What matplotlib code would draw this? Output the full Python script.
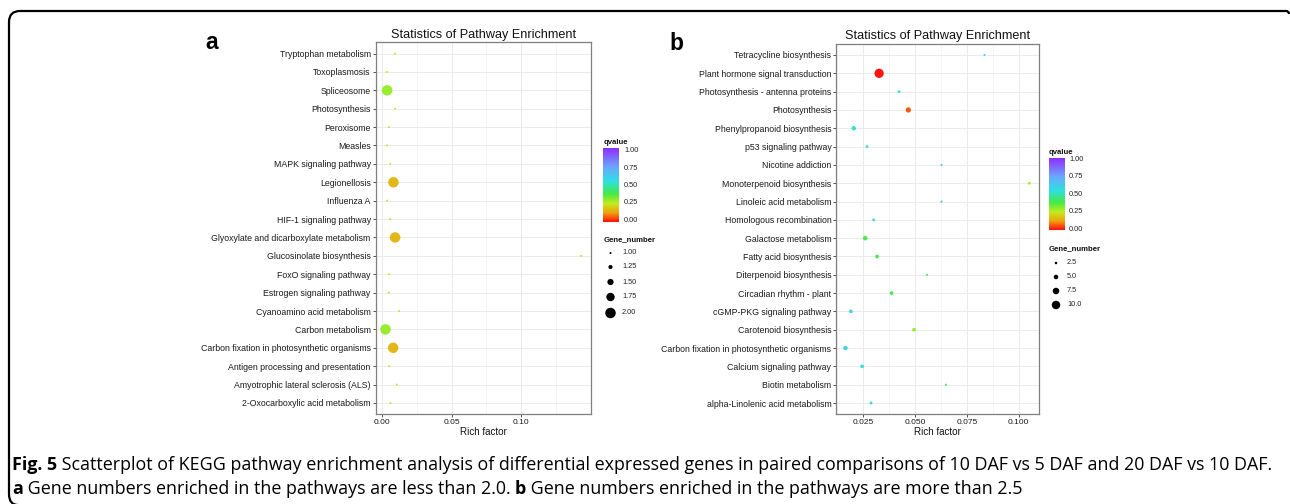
import numpy as np
import matplotlib
matplotlib.use("Agg")
import matplotlib.pyplot as plt
from matplotlib.colors import LinearSegmentedColormap
from matplotlib.path import Path
from matplotlib.patches import PathPatch

W, H = 1290, 504
plt.rcParams["font.family"] = ["Liberation Sans", "DejaVu Sans"]

# panel a
a_names = [
    "Tryptophan metabolism", "Toxoplasmosis", "Spliceosome", "Photosynthesis",
    "Peroxisome", "Measles", "MAPK signaling pathway", "Legionellosis",
    "Influenza A", "HIF-1 signaling pathway",
    "Glyoxylate and dicarboxylate metabolism", "Glucosinolate biosynthesis",
    "FoxO signaling pathway", "Estrogen signaling pathway",
    "Cyanoamino acid metabolism", "Carbon metabolism",
    "Carbon fixation in photosynthetic organisms",
    "Antigen processing and presentation",
    "Amyotrophic lateral sclerosis (ALS)", "2-Oxocarboxylic acid metabolism",
]
a_rich = [0.0095, 0.0036, 0.0038, 0.0095, 0.0050, 0.0036, 0.0060, 0.0083, 0.0037, 0.0060,
          0.0095, 0.1429, 0.0052, 0.0050, 0.0124, 0.0026, 0.0081, 0.0052, 0.0107, 0.0062]
a_q = [0.24, 0.24, 0.30, 0.24, 0.24, 0.24, 0.24, 0.16, 0.24, 0.24,
       0.16, 0.24, 0.24, 0.24, 0.24, 0.30, 0.16, 0.24, 0.24, 0.24]
a_genes = [1, 1, 2, 1, 1, 1, 1, 2, 1, 1, 2, 1, 1, 1, 1, 2, 2, 1, 1, 1]
a_ticks = [0.0, 0.05, 0.10]
a_ticklabels = ["0.00", "0.05", "0.10"]
a_size_legend = [1.0, 1.25, 1.5, 1.75, 2.0]
a_size_labels = ["1.00", "1.25", "1.50", "1.75", "2.00"]

# panel b
b_names = [
    "Tetracycline biosynthesis", "Plant hormone signal transduction",
    "Photosynthesis - antenna proteins", "Photosynthesis",
    "Phenylpropanoid biosynthesis", "p53 signaling pathway", "Nicotine addiction",
    "Monoterpenoid biosynthesis", "Linoleic acid metabolism",
    "Homologous recombination", "Galactose metabolism", "Fatty acid biosynthesis",
    "Diterpenoid biosynthesis", "Circadian rhythm - plant",
    "cGMP-PKG signaling pathway", "Carotenoid biosynthesis",
    "Carbon fixation in photosynthetic organisms", "Calcium signaling pathway",
    "Biotin metabolism", "alpha-Linolenic acid metabolism",
]
b_rich = [0.0835, 0.0327, 0.0423, 0.0468, 0.0205, 0.0269, 0.0628, 0.1051, 0.0628, 0.0301,
          0.0260, 0.0317, 0.0558, 0.0387, 0.0191, 0.0495, 0.0165, 0.0245, 0.0649, 0.0288]
b_q = [0.56, 0.00, 0.53, 0.06, 0.53, 0.55, 0.62, 0.28, 0.62, 0.58,
       0.38, 0.38, 0.40, 0.38, 0.60, 0.30, 0.60, 0.55, 0.42, 0.60]
b_genes = [2, 11, 3, 6, 5, 3, 2, 3, 2, 3, 5, 4, 2, 4, 4, 4, 5, 4, 2, 3]
b_ticks = [0.025, 0.050, 0.075, 0.100]
b_ticklabels = ["0.025", "0.050", "0.075", "0.100"]
b_size_legend = [2.5, 5.0, 7.5, 10.0]
b_size_labels = ["2.5", "5.0", "7.5", "10.0"]

q_ticks = [1.0, 0.75, 0.5, 0.25, 0.0]
q_labels = ["1.00", "0.75", "0.50", "0.25", "0.00"]

cmap = LinearSegmentedColormap.from_list("qv", [
    (0.0, "#ff0000"), (0.12, "#f09a00"), (0.25, "#bfec10"), (0.38, "#3ce83c"),
    (0.55, "#22e0e0"), (0.75, "#64a0ff"), (1.0, "#8a22ff")])


def size_a(g):
    return ((2 + (g - 1) * 8.5) * 0.72) ** 2


def size_b(g):
    return ((0.5 + 0.8 * g) * 0.72) ** 2


def box(l, t, r, b):
    return [l / W, 1 - b / H, (r - l) / W, (b - t) / H]


fig = plt.figure(figsize=(W / 100, H / 100), dpi=100)


def panel(rect, names, rich, q, genes, size_fn, ticks, labels, title_pad):
    ax = fig.add_axes(rect)
    n = len(names)
    y = np.arange(n)
    ax.scatter(rich, y, s=[size_fn(g) for g in genes], c=q, cmap=cmap,
               vmin=0, vmax=1, linewidths=0, alpha=0.92, zorder=3)
    lo, hi = min(rich), max(rich)
    pad = 0.05 * (hi - lo)
    ax.set_xlim(lo - pad, hi + pad)
    ax.set_ylim(n - 1 + 0.6, -0.6)
    ax.set_yticks(y, names)
    ax.set_xticks(ticks, labels)
    step = ticks[1] - ticks[0]
    minor = [t + step / 2 for t in [ticks[0] - step] + ticks]
    minor = [m for m in minor if lo - pad < m < hi + pad]
    ax.set_xticks(minor, minor=True)
    ax.tick_params(axis="x", which="minor", length=0)
    ax.grid(True, which="major", color="#ebebeb", lw=0.7, zorder=0)
    ax.grid(True, which="minor", axis="x", color="#f2f2f2", lw=0.5, zorder=0)
    ax.set_axisbelow(True)
    ax.tick_params(axis="both", which="major", length=2.4, width=0.6,
                   color="#333333", labelcolor="#1a1a1a", pad=1.2)
    ax.tick_params(axis="y", labelsize=6.3)
    ax.tick_params(axis="x", labelsize=6.0)
    for sp in ax.spines.values():
        sp.set_color("#7f7f7f")
        sp.set_linewidth(0.9)
    ax.set_title("Statistics of Pathway Enrichment", fontsize=9.1, pad=title_pad,
                 color="#111111")
    ax.set_xlabel("Rich factor", fontsize=7.1, labelpad=0.5, color="#111111")
    return ax


panel(box(375.7, 42.5, 591, 414), a_names, a_rich, a_q, a_genes, size_a,
      a_ticks, a_ticklabels, 3.3)
panel(box(836.3, 44, 1038.5, 414), b_names, b_rich, b_q, b_genes, size_b,
      b_ticks, b_ticklabels, 3.6)

ov = fig.add_axes([0, 0, 1, 1])
ov.axis("off")
grad = np.linspace(1, 0, 256)[:, None]


def legend(x0, title_y, bar_top, bar_bot, lab_top, lab_bot, gtitle_y, dot_ys,
           sizes, slabels, size_fn, lab_x):
    ov.text(x0, title_y, "qvalue", fontsize=5.6, fontweight="bold", va="baseline",
            ha="left", color="#111111")
    ov.imshow(grad, extent=[x0 - 0.5, x0 + 15.5, bar_bot, bar_top], cmap=cmap,
              aspect="auto", interpolation="bilinear", alpha=0.95)
    for v, lab in zip(q_ticks, q_labels):
        yy = lab_bot + (lab_top - lab_bot) * v
        ov.text(lab_x, yy, lab, fontsize=5.3, va="center", ha="left", color="#222222")
    ov.text(x0, gtitle_y, "Gene_number", fontsize=5.6, fontweight="bold",
            va="baseline", ha="left", color="#111111")
    ov.scatter([x0 + 7] * len(sizes), dot_ys, s=[size_fn(g) for g in sizes],
               c="black", linewidths=0)
    for yy, lab in zip(dot_ys, slabels):
        ov.text(lab_x - 2, yy, lab, fontsize=5.3, va="center", ha="left", color="#222222")


legend(603.5, 144, 148, 222, 150.7, 220, 241.5, [253, 267, 282, 297, 313],
       a_size_legend, a_size_labels, size_a, 624)
legend(1049, 154, 158, 230, 159.3, 229.3, 250, [263, 277, 291, 305],
       b_size_legend, b_size_labels, size_b, 1069)

ov.text(205.5, 49.3, "a", fontsize=16.4, fontweight="bold", va="baseline", ha="left")
ov.text(669, 50, "b", fontsize=16.4, fontweight="bold", va="baseline", ha="left")

# outer rounded frame
verts = [(18, 505), (9, 505), (9, 494), (9, 22), (9, 11), (20, 11), (1286, 11),
         (1289, 11), (1289, 14)]
codes = [Path.MOVETO, Path.CURVE3, Path.CURVE3, Path.LINETO, Path.CURVE3, Path.CURVE3,
         Path.LINETO, Path.CURVE3, Path.CURVE3]
ov.add_patch(PathPatch(Path(verts, codes), fill=False, lw=1.6, ec="black",
                       capstyle="butt"))
ov.set_xlim(0, W)
ov.set_ylim(H, 0)

# caption
cap_font = ["Liberation Sans Narrow", "Open Sans", "DejaVu Sans"]
line1 = [("Fig. 5", True), (" Scatterplot of KEGG pathway enrichment analysis of "
         "differential expressed genes in paired comparisons of 10 DAF vs 5 DAF and "
         "20 DAF vs 10 DAF.", False)]
line2 = [("a", True), (" Gene numbers enriched in the pathways are less than 2.0. ", False),
         ("b", True), (" Gene numbers enriched in the pathways are more than 2.5", False)]

renderer = fig.canvas.get_renderer()


def text_width(s, size, bold):
    t = ov.text(0, 0, "|" + s + "|", fontsize=size, family=cap_font,
                fontweight="bold" if bold else "normal")
    w1 = t.get_window_extent(renderer).width
    t.set_text("||")
    w0 = t.get_window_extent(renderer).width
    t.remove()
    return w1 - w0


base = 10.0
natural = sum(text_width(s, base, b) for s, b in line1)
cap_size = base * (1279 - 12) / natural


def rich_line(parts, x, y):
    for s, b in parts:
        ov.text(x, y, s, fontsize=cap_size, family=cap_font,
                fontweight="bold" if b else "normal", va="baseline", ha="left")
        x += text_width(s, cap_size, b)


rich_line(line1, 12, 470)
rich_line(line2, 12, 494)

fig.savefig("out.png", dpi=100)
